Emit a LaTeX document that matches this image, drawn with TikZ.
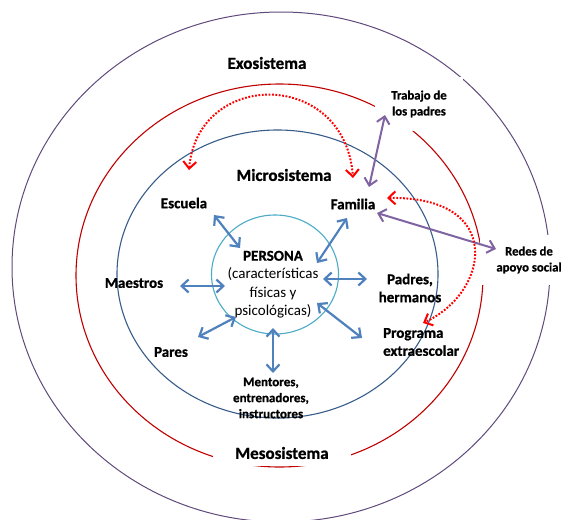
\documentclass[tikz,border=0pt]{standalone}
\usepackage{fontspec}
\setmainfont{Carlito}[BoldFeatures={FakeBold=0.8}]
\usetikzlibrary{arrows.meta}

\definecolor{exoline}{RGB}{96,74,123}
\definecolor{mesoline}{RGB}{192,0,0}
\definecolor{microline}{RGB}{56,93,138}
\definecolor{personline}{RGB}{75,172,198}
\definecolor{bluelink}{RGB}{79,129,189}
\definecolor{purplelink}{RGB}{128,100,162}
\definecolor{reddot}{RGB}{255,0,0}

\tikzset{
  systemlabel/.style={font=\bfseries\fontsize{17}{20}\selectfont, inner sep=0pt},
  agentlabel/.style={font=\bfseries\fontsize{15}{18}\selectfont, align=center, inner sep=0pt},
  smalllabel/.style={font=\bfseries\fontsize{12.7}{16}\selectfont, align=center, inner sep=0pt},
  whitebox/.style={fill=white, inner sep=0pt},
  ring/.style={line width=1.1pt},
  bluearrow/.style={draw=bluelink, line width=2.2pt, {Straight Barb[length=7pt,width=13pt]}-{Straight Barb[length=7pt,width=13pt]}},
  purplearrow/.style={draw=purplelink, line width=2pt, {Straight Barb[length=7pt,width=13pt]}-{Straight Barb[length=7pt,width=13pt]}},
  redlink/.style={draw=reddot, line width=2pt, dash pattern=on 1.8pt off 1.6pt, {Straight Barb[length=7pt,width=13pt]}-{Straight Barb[length=7pt,width=13pt]}},
}

\begin{document}
\begin{tikzpicture}[x=1pt,y=-1pt]
\path[use as bounding box, fill=white] (0,0) rectangle (563,520);

% nested systems
\draw[ring, exoline, line width=1pt] (281,267) ellipse [x radius=269, y radius=255];
\draw[ring, mesoline] (279.5,275.5) ellipse [x radius=203.5, y radius=191.5];
\draw[ring, microline] (277.5,274) ellipse [x radius=160.5, y radius=144];
\draw[ring, personline] (275,274.5) ellipse [x radius=63.5, y radius=59.5];

% system names
\node[systemlabel] (exo) at (267,63) {Exosistema};
\node[systemlabel] (micro) at (284,175) {Microsistema};
\node[systemlabel, whitebox, minimum width=138pt, minimum height=25pt] (meso) at (282,453) {Mesosistema};

% exosystem settings
\node[smalllabel, whitebox, minimum width=88pt, minimum height=54pt] (trabajo) at (419,104) {Trabajo de\\los padres};
\node[smalllabel, whitebox, minimum width=98pt, minimum height=50pt] (redes) at (529,260) {Redes de\\apoyo social};

% microsystem agents
\node[agentlabel] (escuela) at (184,203) {Escuela};
\node[agentlabel] (familia) at (353,204) {Familia};
\node[agentlabel] (maestros) at (134,283) {Maestros};
\node[agentlabel] (pares) at (171,352) {Pares};
\node[agentlabel] (padres) at (410,288) {Padres,\\hermanos};
\node[agentlabel, align=left, anchor=west] (programa) at (383,342) {Programa\\extraescolar};
\node[smalllabel, font=\bfseries\fontsize{13}{16}\selectfont] (mentores) at (271,398) {Mentores,\\entrenadores,\\instructores};

% the person at the centre
\node[font=\fontsize{15}{18.3}\selectfont, align=center, inner sep=0pt] (persona) at (273,284.5)
  {\textbf{PERSONA}\\(características\\físicas y\\psicológicas)};

% link end points
\coordinate (escA) at (214,215);  \coordinate (escB) at (240,248);
\coordinate (famA) at (347,218);  \coordinate (famB) at (317,263);
\coordinate (maeA) at (180,286);  \coordinate (maeB) at (225,286);
\coordinate (parA) at (198,337);  \coordinate (parB) at (236,317);
\coordinate (menA) at (273,328);  \coordinate (menB) at (273,373);
\coordinate (padA) at (323,279);  \coordinate (padB) at (367,279);
\coordinate (proA) at (317,303);  \coordinate (proB) at (362,338);

\coordinate (traA) at (385,115);  \coordinate (traB) at (369,187);
\coordinate (redA) at (377,213);  \coordinate (redB) at (496,249);

\coordinate (mesEsc) at (189,170); \coordinate (mesFam) at (353,178);
\coordinate (mesFam2) at (387,198); \coordinate (mesPro) at (423,323);

% person <-> microsystem links
\draw[bluearrow] (escA) -- (escB);
\draw[bluearrow] (famA) -- (famB);
\draw[bluearrow] (maeA) -- (maeB);
\draw[bluearrow] (parA) -- (parB);
\draw[bluearrow] (menA) -- (menB);
\draw[bluearrow] (padA) -- (padB);
\draw[bluearrow] (proA) -- (proB);

% exosystem links
\draw[purplearrow] (traA) -- (traB);
\draw[purplearrow] (redA) -- (redB);

% mesosystem links
\draw[redlink] (mesEsc) .. controls (198,69) and (345,69) .. (mesFam);
\draw[redlink] (mesFam2) .. controls (505,196) and (490,292) .. (mesPro);
\end{tikzpicture}
\end{document}
